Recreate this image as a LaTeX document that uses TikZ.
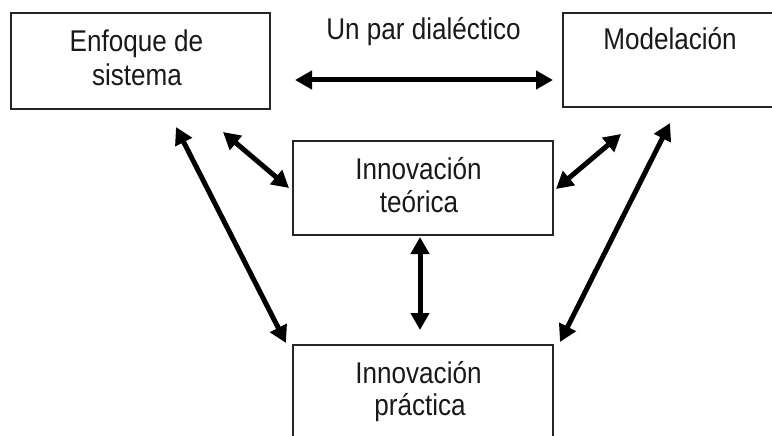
\documentclass[tikz,border=0pt]{standalone}
\usepackage{fontspec}
\setmainfont{Liberation Sans}[FakeStretch=0.87]
\usetikzlibrary{arrows.meta}
\begin{document}
\begin{tikzpicture}[x=1pt,y=-1pt,
  box/.style={draw=black!85, line width=1.4pt, inner sep=0pt, rectangle},
  lbl/.style={anchor=base, inner sep=0pt, text=black!90, font=\fontsize{30}{33}\selectfont},
  dbl/.style={line width=5pt, {Triangle[length=17pt,width=18pt]}-{Triangle[length=17pt,width=18pt]}}]
\useasboundingbox (0,0) rectangle (772,436);
% boxes
\node[box, minimum width=259pt, minimum height=96pt] (es) at (140.5,61) {};
\node[box, minimum width=400pt, minimum height=94pt] (mo) at (763,60) {};
\node[box, minimum width=260pt, minimum height=94pt] (it) at (423,188) {};
\node[box, minimum width=260pt, minimum height=140pt] (ip) at (423,415) {};
% labels
\node[lbl] (es1) at (136.5,52) {Enfoque de};
\node[lbl] (es2) at (137,85) {sistema};
\node[lbl] (par) at (423.5,40) {Un par dialéctico};
\node[lbl] (mo1) at (670,50) {Modelación};
\node[lbl] (it1) at (418.5,179) {Innovación};
\node[lbl] (it2) at (419,212) {teórica};
\node[lbl] (ip1) at (418.5,383) {Innovación};
\node[lbl] (ip2) at (420,415) {práctica};
% connector ends
\coordinate (h1) at (295,80);
\coordinate (h2) at (553,80);
\coordinate (a1) at (223,132);
\coordinate (a2) at (289,188);
\coordinate (b1) at (176,127);
\coordinate (b2) at (286,343);
\coordinate (c1) at (621,134);
\coordinate (c2) at (556,189);
\coordinate (d1) at (670,123);
\coordinate (d2) at (560,342);
\coordinate (v1) at (420,237);
\coordinate (v2) at (420,330);
% connectors
\draw[dbl] (h1) -- (h2);
\draw[dbl] (a1) -- (a2);
\draw[dbl] (b1) -- (b2);
\draw[dbl] (c1) -- (c2);
\draw[dbl] (d1) -- (d2);
\draw[dbl] (v1) -- (v2);
\end{tikzpicture}
\end{document}
